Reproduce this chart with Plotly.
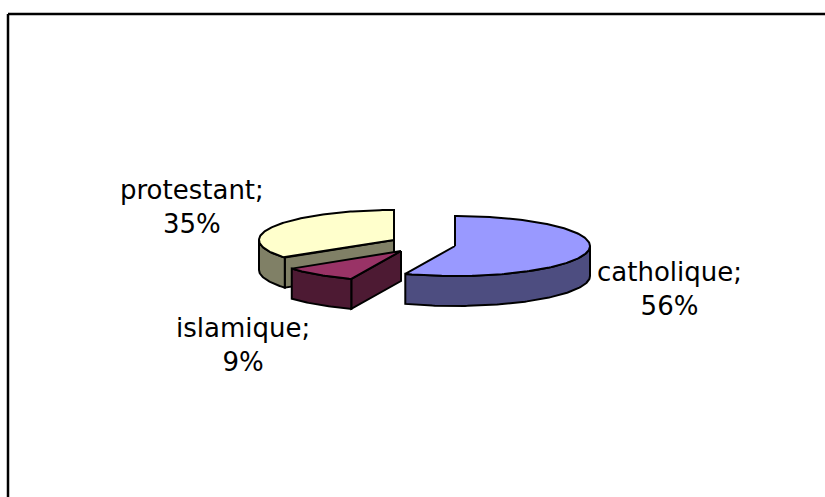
import numpy as np
import plotly.graph_objects as go

categories = ["catholique", "islamique", "protestant"]
values = [56, 9, 35]
top_colors = ["#9999FF", "#993366", "#FFFFCC"]
wall_colors = ["#4D4D80", "#4D1A33", "#808066"]
apex_x = [455, 401, 394]
apex_y = [246, 251, 240]
label_xy = [(669, 289), (243, 345), (192, 207)]

W, H = 825, 497
RX, RY, DEPTH = 135, 30, 30
OFFSET = 8
FONT = 26


def arc(cx, cy, a0, a1, dy=0):
    a = np.radians(np.linspace(a0, a1, max(2, int(abs(a1 - a0)) + 2)))
    return cx + RX * np.sin(a), cy - RY * np.cos(a) + dy


fig = go.Figure()


def face(xs, ys, color):
    xs = list(xs) + [xs[0]]
    ys = list(ys) + [ys[0]]
    fig.add_trace(go.Scatter(x=xs, y=ys, mode="lines", fill="toself", fillcolor=color,
                             line=dict(color="#000000", width=2), hoverinfo="skip",
                             showlegend=False))


starts = np.cumsum([0] + values[:-1]) * 3.6
ends = np.cumsum(values) * 3.6
for i in [2, 1, 0]:
    cx, cy = apex_x[i], apex_y[i]
    a0, a1 = starts[i], ends[i]
    # radial wall at the start edge, when it faces the viewer
    if 90 < a0 < 270:
        ex, ey = arc(cx, cy, a0, a0)
        ex, ey = ex[0], ey[0]
        face([cx, ex, ex, cx], [cy, ey, ey + DEPTH, cy + DEPTH], wall_colors[i])
    # outer wall on the front half
    f0, f1 = max(a0, 90), min(a1, 270)
    if f1 > f0:
        ax, ay = arc(cx, cy, f0, f1)
        bx, by = arc(cx, cy, f1, f0, DEPTH)
        face(np.r_[ax, bx], np.r_[ay, by], wall_colors[i])
    # top face
    tx, ty = arc(cx, cy, a0, a1)
    face(np.r_[cx, tx], np.r_[cy, ty], top_colors[i])

for cat, val, (lx, ly) in zip(categories, values, label_xy):
    fig.add_annotation(x=lx, y=ly, text=f"{cat};<br>{val}%", showarrow=False,
                       font=dict(family="DejaVu Sans, sans-serif", size=FONT, color="#000000"),
                       align="center")

fig.add_shape(type="line", x0=OFFSET, x1=W, y0=14, y1=14, line=dict(color="#000000", width=2.5))
fig.add_shape(type="line", x0=OFFSET, x1=OFFSET, y0=14, y1=H, line=dict(color="#000000", width=2.5))

fig.update_xaxes(range=[0, W], visible=False, fixedrange=True)
fig.update_yaxes(range=[H, 0], visible=False, fixedrange=True)
fig.update_layout(width=W, height=H, margin=dict(l=0, r=0, t=0, b=0),
                  paper_bgcolor="#FFFFFF", plot_bgcolor="#FFFFFF", showlegend=False)
fig.write_html("out.html", config={"displayModeBar": False},
               post_script="document.body.style.margin='0';document.documentElement.style.overflow='hidden';")
